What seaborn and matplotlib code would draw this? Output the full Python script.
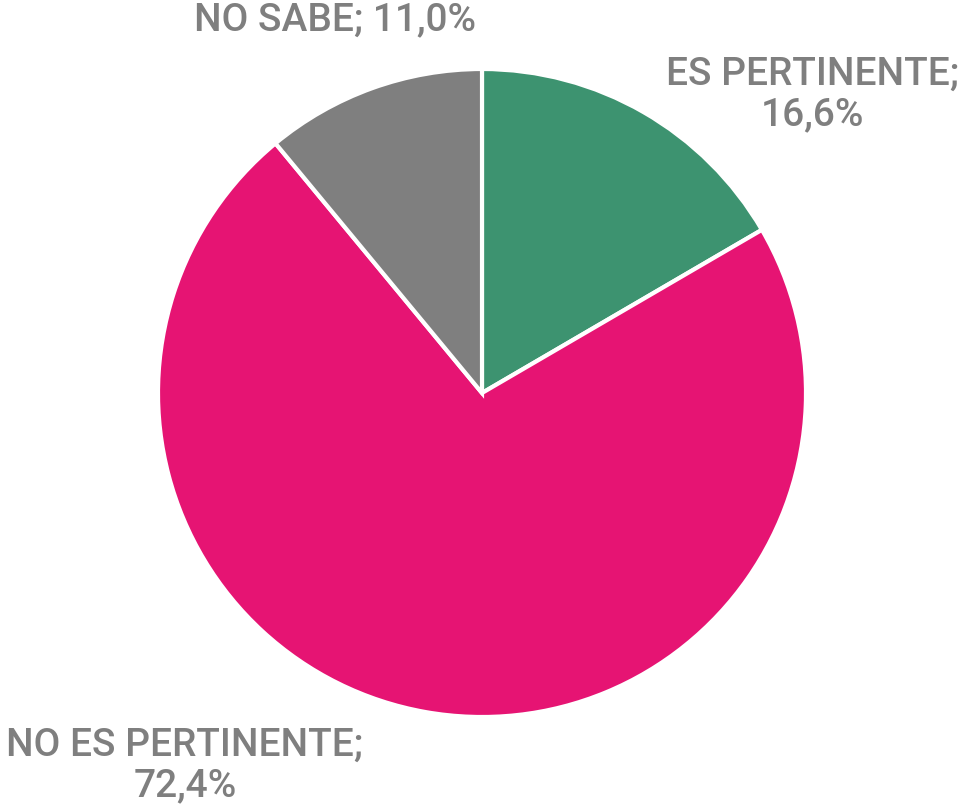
import matplotlib
matplotlib.use("Agg")
import matplotlib.pyplot as plt
import seaborn as sns

# Data
categories = ["ES PERTINENTE", "NO ES PERTINENTE", "NO SABE"]
values = [16.6, 72.4, 11.0]
colors = ["#3D9370", "#E61473", "#7F7F7F"]
label_pos = [(1.019, 0.920), (-0.917, -1.151), (-0.454, 1.151)]
two_lines = [True, True, False]

sns.set_theme(style="white")
plt.rcParams["font.family"] = ["Roboto", "DejaVu Sans"]

fig = plt.figure(figsize=(9.74, 8.07), dpi=100)
ax = fig.add_axes([0, 0, 1, 1])

ax.pie(values, colors=colors, startangle=90, counterclock=False,
       radius=1.0, wedgeprops=dict(edgecolor="white", linewidth=3))

# etiquetas de categoria y porcentaje
for cat, val, (x, y), wrap in zip(categories, values, label_pos, two_lines):
    pct = f"{val:.1f}%".replace(".", ",")
    txt = f"{cat};\n{pct}" if wrap else f"{cat}; {pct}"
    ax.text(x, y, txt, ha="center", va="center", fontsize=28,
            fontweight="medium", color="#7F7F7F", linespacing=1.12)

ax.set_xlim(-482 / 324, (974 - 482) / 324)
ax.set_ylim(-414 / 324, 393 / 324)
ax.set_aspect("equal")
ax.axis("off")

fig.savefig("out.png", dpi=100, facecolor="white")
